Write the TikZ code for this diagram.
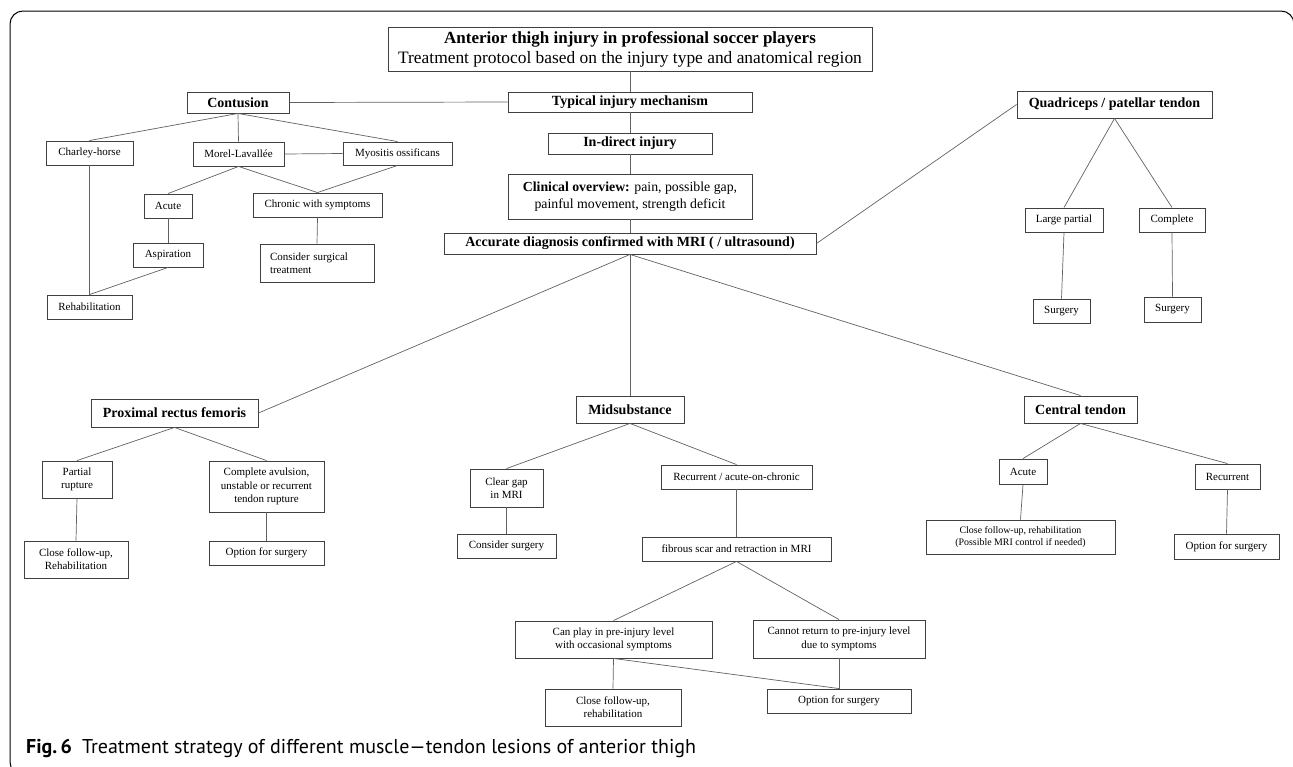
\documentclass[tikz,border=0pt]{standalone}
\usepackage{fontspec}
\setmainfont{Liberation Serif}
\newfontfamily\capfont{PT Sans}
\begin{document}
\begin{tikzpicture}[x=1pt,y=-1pt,
  bx/.style={draw=black!75, line width=0.9pt, inner sep=0pt, align=center, font=\fontsize{11}{13.3}\selectfont},
  hd/.style={bx, font=\fontsize{14}{16}\selectfont\bfseries},
  ln/.style={draw=black!62, line width=0.7pt},
  frame/.style={draw=black, line width=1pt, rounded corners=13pt}]
\useasboundingbox (0,0) rectangle (1293,766);
\begin{scope}
\clip (0,0) rectangle (1293,766);
\draw[frame] (24,775) -- (10,775) -- (10,11) -- (1294,11) -- (1294,60);
\end{scope}
% title
\node[bx, minimum width=484pt, minimum height=44pt, font=\fontsize{17.4}{20}\selectfont] (title) at (630,49)
  {{\fontsize{17}{20}\selectfont\bfseries Anterior thigh injury in professional soccer players}\\Treatment protocol based on the injury type and anatomical region};
\node[hd, minimum width=244pt, minimum height=20pt] (typical) at (630,102) {Typical injury mechanism};
\node[hd, minimum width=164pt, minimum height=21pt] (indirect) at (630,143.5) {In-direct injury};
\node[bx, minimum width=244pt, minimum height=45pt, font=\fontsize{13.8}{16.7}\selectfont] (clinical) at (630,196.5)
  {\textbf{Clinical overview:} pain, possible gap,\\painful movement, strength deficit};
\node[hd, minimum width=372pt, minimum height=21pt] (accurate) at (630,243.5) {Accurate diagnosis confirmed with MRI ( / ultrasound)};
% contusion branch
\node[hd, minimum width=102pt, minimum height=21pt] (contusion) at (238,102.5) {Contusion};
\node[bx, minimum width=87pt, minimum height=24pt] (charley) at (89.5,153) {Charley-horse};
\node[bx, minimum width=91pt, minimum height=24pt] (morel) at (238.5,154) {Morel-Lavallée};
\node[bx, minimum width=109pt, minimum height=23pt] (myositis) at (397.5,153.5) {Myositis ossificans};
\node[bx, minimum width=48pt, minimum height=24pt] (acuteL) at (168,206) {Acute};
\node[bx, minimum width=129pt, minimum height=24pt] (chronic) at (317.5,205) {Chronic with symptoms};
\node[bx, minimum width=70pt, minimum height=24pt] (aspiration) at (168,255) {Aspiration};
\node[bx, text width=94pt, inner xsep=10pt, minimum height=38pt, align=left] (considersurg) at (317,263) {Consider surgical\\treatment};
\node[bx, minimum width=85pt, minimum height=24pt] (rehab) at (89.5,307) {Rehabilitation};
% quadriceps branch
\node[hd, minimum width=195pt, minimum height=27pt] (quad) at (1114.5,104.5) {Quadriceps / patellar tendon};
\node[bx, minimum width=78pt, minimum height=24pt] (largepartial) at (1064,220) {Large partial};
\node[bx, minimum width=66pt, minimum height=24pt] (complete) at (1172,220) {Complete};
\node[bx, minimum width=57pt, minimum height=24pt] (surgL) at (1061.5,311) {Surgery};
\node[bx, minimum width=57pt, minimum height=25pt] (surgR) at (1172.5,309.5) {Surgery};
% proximal rectus femoris
\node[hd, minimum width=167pt, minimum height=28pt] (proximal) at (174.5,413) {Proximal rectus femoris};
\node[bx, minimum width=70pt, minimum height=37pt] (partial) at (77,479.5) {Partial\\rupture};
\node[bx, minimum width=115pt, minimum height=51pt] (avulsion) at (266.5,486.5) {Complete avulsion,\\unstable or recurrent\\tendon rupture};
\node[bx, minimum width=104pt, minimum height=37pt] (closeL) at (76,559.5) {Close follow-up,\\Rehabilitation};
\node[bx, minimum width=115pt, minimum height=24pt] (optionL) at (266.5,553) {Option for surgery};
% midsubstance
\node[hd, minimum width=108pt, minimum height=27pt] (mid) at (630,409.5) {Midsubstance};
\node[bx, minimum width=73pt, minimum height=38pt] (cleargap) at (506.5,488) {Clear gap\\in MRI};
\node[bx, minimum width=151pt, minimum height=24pt] (recurM) at (736.5,477) {Recurrent / acute-on-chronic};
\node[bx, minimum width=99pt, minimum height=24pt] (considerS) at (506.5,546) {Consider surgery};
\node[bx, minimum width=189pt, minimum height=24pt] (fibrous) at (736.5,549) {fibrous scar and retraction in MRI};
\node[bx, minimum width=197pt, minimum height=37pt] (canplay) at (613.5,639.5) {Can play in pre-injury level\\with occasional symptoms};
\node[bx, minimum width=172pt, minimum height=38pt] (cannot) at (839,639) {Cannot return to pre-injury level\\due to symptoms};
\node[bx, minimum width=136pt, minimum height=37pt] (closeM) at (613,707.5) {Close follow-up,\\rehabilitation};
\node[bx, minimum width=144pt, minimum height=24pt] (optionM) at (839,701) {Option for surgery};
% central tendon
\node[hd, minimum width=113pt, minimum height=27pt] (central) at (1080.5,409.5) {Central tendon};
\node[bx, minimum width=48pt, minimum height=25pt] (acuteR) at (1023,471.5) {Acute};
\node[bx, minimum width=65pt, minimum height=25pt] (recurR) at (1227.5,476.5) {Recurrent};
\node[bx, minimum width=189pt, minimum height=34pt, font=\fontsize{9.9}{11.7}\selectfont] (closeR) at (1020.5,537) {Close follow-up, rehabilitation\\(Possible MRI control if needed)};
\node[bx, minimum width=105pt, minimum height=25pt] (optionR) at (1226.5,546.5) {Option for surgery};
% caption
\node[anchor=base west, inner sep=0pt, font=\capfont\fontsize{20}{23}\selectfont] (cap) at (26,753)
  {\textbf{Fig.\,6}\hspace{0.5em}Treatment strategy of different muscle—tendon lesions of anterior thigh};
% connectors
\draw[ln] (title.south) -- (typical.north);
\draw[ln] (contusion.east) -- (typical.west);
\draw[ln] (typical.south) -- (indirect.north);
\draw[ln] (indirect.south) -- (clinical.north);
\draw[ln] (clinical.south) -- (accurate.north);
\draw[ln] (accurate.east) -- (quad.west);
\draw[ln] (quad.south) -- (largepartial.north);
\draw[ln] (quad.south) -- (complete.north);
\draw[ln] (largepartial.south) -- (surgL.north);
\draw[ln] (complete.south) -- (surgR.north);
\draw[ln] (contusion.south) -- (charley.north);
\draw[ln] (contusion.south) -- (morel.north);
\draw[ln] (contusion.south) -- (myositis.north);
\draw[ln] (morel.east) -- (myositis.west);
\draw[ln] (morel.south) -- (acuteL.north);
\draw[ln] (morel.south) -- (chronic.north);
\draw[ln] (myositis.south) -- (chronic.north);
\draw[ln] (acuteL.south) -- (aspiration.north);
\draw[ln] (chronic.south) -- (considersurg.north);
\draw[ln] (charley.south) -- (rehab.north);
\draw[ln] (aspiration.south) -- (rehab.north);
\draw[ln] (accurate.south) -- (proximal.east);
\draw[ln] (accurate.south) -- (mid.north);
\draw[ln] (accurate.south) -- (central.north);
\draw[ln] (proximal.south) -- (partial.north);
\draw[ln] (proximal.south) -- (avulsion.north);
\draw[ln] (partial.south) -- (closeL.north);
\draw[ln] (avulsion.south) -- (optionL.north);
\draw[ln] (mid.south) -- (cleargap.north);
\draw[ln] (mid.south) -- (recurM.north);
\draw[ln] (cleargap.south) -- (considerS.north);
\draw[ln] (recurM.south) -- (fibrous.north);
\draw[ln] (fibrous.south) -- (canplay.north);
\draw[ln] (fibrous.south) -- (cannot.north);
\draw[ln] (canplay.south) -- (closeM.north);
\draw[ln] (canplay.south) -- (optionM.north);
\draw[ln] (cannot.south) -- (optionM.north);
\draw[ln] (central.south) -- (acuteR.north);
\draw[ln] (central.south) -- (recurR.north);
\draw[ln] (acuteR.south) -- (closeR.north);
\draw[ln] (recurR.south) -- (optionR.north);
\end{tikzpicture}
\end{document}
